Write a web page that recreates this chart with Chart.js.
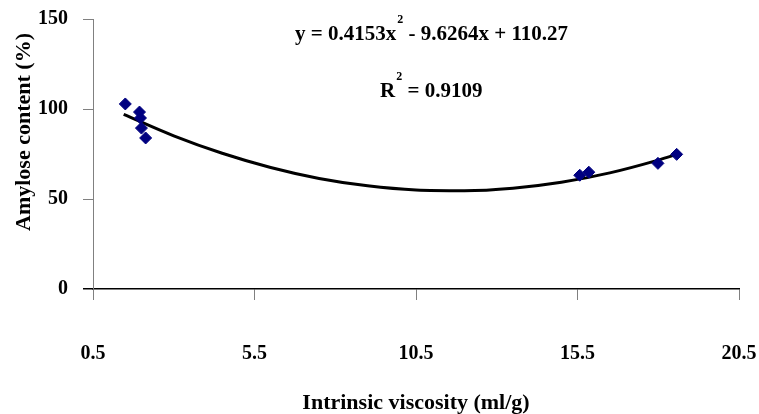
<!DOCTYPE html>
<html>
<head>
<meta charset="utf-8">
<script src="https://cdn.jsdelivr.net/npm/chart.js@4.4.1/dist/chart.umd.min.js"></script>
<style>
    html, body { margin: 0; padding: 0; background: #fff; }
    #wrap { width: 759px; height: 414px; }
</style>
</head>
<body>
<div id="wrap"><canvas id="viscChart" width="759" height="414"></canvas></div>
<script>
// measured samples
const viscosity = [1.5, 1.94, 1.97, 2.0, 2.13, 15.57, 15.85, 17.99, 18.57];
const amylose = [102.8, 98.3, 95, 89.4, 83.9, 63.2, 64.9, 69.8, 74.8];

// trendline
const trendX = [1.45, 3, 4.5, 6, 7.5, 9, 10.5, 12, 13.5, 15, 16.5, 18, 18.6];
const trendY = [97, 85.1, 75.4, 67.5, 61.4, 57.3, 55.0, 54.6, 56.0, 59.3, 64.5, 71.6, 74.9];

const xTicks = [0.5, 5.5, 10.5, 15.5, 20.5];
const yTicks = [0, 50, 100, 150];

const equationText = "y = 0.4153x";
const equationRest = " - 9.6264x + 110.27";
const rSquaredValue = " = 0.9109";
const yTitle = "Amylose content (%)";

const serif = "'Liberation Serif', 'Times New Roman', serif";

const annotations = {
    id: "annotations",
    afterDraw(chart) {
        const c = chart.ctx;
        const big = "bold 21px " + serif;
        const sup = "bold 12px " + serif;
        c.save();
        c.fillStyle = "#000";
        c.textBaseline = "alphabetic";
        c.textAlign = "left";

        // equation
        c.font = big;
        const w1 = c.measureText(equationText).width;
        c.font = sup;
        const w2 = c.measureText("2").width;
        let x = 295;
        const y1 = 40;
        c.font = big;
        c.fillText(equationText, x, y1);
        c.font = sup;
        c.fillText("2", x + w1 + 1, y1 - 17);
        c.font = big;
        c.fillText(equationRest, x + w1 + w2 + 1, y1);

        // r squared
        const r1 = c.measureText("R").width;
        x = 380;
        const y2 = 97;
        c.fillText("R", x, y2);
        c.font = sup;
        c.fillText("2", x + r1 + 1, y2 - 17);
        c.font = big;
        c.fillText(rSquaredValue, x + r1 + w2 + 1, y2);

        // y axis title
        c.translate(24, 132);
        c.rotate(-Math.PI / 2);
        c.textAlign = "center";
        c.textBaseline = "middle";
        c.font = "bold 22px " + serif;
        c.fillText(yTitle, 0, 0);
        c.restore();
    }
};

new Chart(document.getElementById("viscChart"), {
    type: "scatter",
    data: {
        datasets: [
            {
                label: "Amylose",
                data: viscosity.map((v, i) => ({ x: v, y: amylose[i] })),
                pointStyle: "rectRot",
                pointRadius: 6,
                backgroundColor: "#000080",
                borderColor: "#000080",
                borderWidth: 1,
                order: 1,
            },
            {
                label: "Poly. trend",
                type: "line",
                data: trendX.map((v, i) => ({ x: v, y: trendY[i] })),
                borderColor: "#000",
                borderWidth: 3,
                pointRadius: 0,
                cubicInterpolationMode: "monotone",
                fill: false,
                order: 2,
            },
        ],
    },
    options: {
        responsive: false,
        animation: false,
        layout: { padding: { top: 19, right: 20, left: 0, bottom: 0 } },
        plugins: {
            legend: { display: false },
            tooltip: { enabled: false },
        },
        scales: {
            x: {
                type: "linear",
                min: xTicks[0],
                max: xTicks[xTicks.length - 1],
                afterBuildTicks: (scale) => {
                    scale.ticks = xTicks.map((v) => ({ value: v }));
                },
                afterFit: (scale) => {
                    scale.height = 125;
                    scale.paddingLeft = 0;
                    scale.paddingRight = 0;
                },
                border: { color: "#000", width: 1.5 },
                grid: {
                    drawOnChartArea: false,
                    drawTicks: true,
                    tickLength: 11,
                    color: "#808080",
                },
                ticks: {
                    padding: 42,
                    color: "#000",
                    font: { family: serif, size: 20, weight: "bold" },
                    callback: (v) => v.toFixed(1),
                },
                title: {
                    display: true,
                    text: "Intrinsic viscosity (ml/g)",
                    color: "#000",
                    font: { family: serif, size: 22, weight: "bold", lineHeight: 1 },
                    padding: { top: 0, bottom: 0 },
                },
            },
            y: {
                min: 0,
                max: 150,
                afterBuildTicks: (scale) => {
                    scale.ticks = yTicks.map((v) => ({ value: v }));
                },
                afterFit: (scale) => {
                    scale.width = 93;
                    scale.paddingTop = 0;
                    scale.paddingBottom = 0;
                },
                border: { color: "#808080", width: 1 },
                grid: {
                    drawOnChartArea: false,
                    drawTicks: true,
                    tickLength: 10,
                    // the zero tick continues the black x axis line
                    color: (ctx) => (ctx.tick && ctx.tick.value === 0 ? "#000" : "#808080"),
                    lineWidth: (ctx) => (ctx.tick && ctx.tick.value === 0 ? 1.5 : 1),
                },
                ticks: {
                    padding: 15,
                    color: "#000",
                    font: { family: serif, size: 20, weight: "bold" },
                },
            },
        },
    },
    plugins: [annotations],
});
</script>
</body>
</html>
